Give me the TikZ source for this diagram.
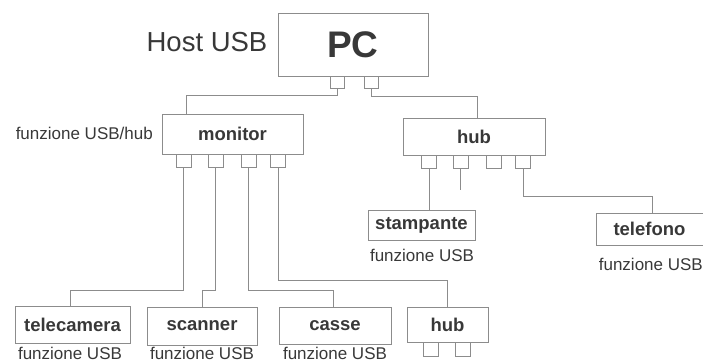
\documentclass[tikz,border=0pt]{standalone}
\usepackage{fontspec}
\setmainfont{Liberation Sans}
\definecolor{linec}{gray}{0.55}
\definecolor{txt}{gray}{0.22}
\tikzset{
  box/.style={draw=linec, line width=0.8pt, inner sep=0pt, text=txt,
              font=\bfseries\fontsize{18.5}{20}\selectfont},
  port/.style={draw=linec, line width=0.7pt, minimum width=15pt, minimum height=13pt, inner sep=0pt},
  lbl/.style={font=\fontsize{17}{19}\selectfont, text=txt, inner sep=0pt},
  wire/.style={draw=linec, line width=0.8pt}
}
\begin{document}
\begin{tikzpicture}[x=1pt,y=-1pt]
\useasboundingbox (0,0) rectangle (703,363);

% main boxes
\node[box, minimum width=150pt, minimum height=63pt, font=\bfseries\fontsize{37}{40}\selectfont] (pc) at (353,44.5) {PC};
\node[box, minimum width=141pt, minimum height=40pt] (monitor) at (232.5,134) {monitor};
\node[box, minimum width=142pt, minimum height=37pt] (hub) at (474,136.5) {hub};
\node[box, minimum width=107pt, minimum height=30pt] (stampante) at (421.5,225) {stampante};
\node[box, minimum width=107pt, minimum height=32pt] (telefono) at (649.5,229) {telefono};
\node[box, minimum width=115pt, minimum height=37pt] (telecamera) at (72.5,324.5) {telecamera};
\node[box, minimum width=110pt, minimum height=38pt] (scanner) at (202,326) {scanner};
\node[box, minimum width=112pt, minimum height=37pt] (casse) at (335,325.5) {casse};
\node[box, minimum width=81pt, minimum height=35pt] (hubb) at (447.5,324.5) {hub};

% ports
\node[port, minimum width=14pt, minimum height=12pt] (pc1) at (337,82) {};
\node[port, minimum width=14pt, minimum height=12pt] (pc2) at (371,82) {};
\node[port] (m1) at (183.5,160.5) {};
\node[port] (m2) at (215.5,160.5) {};
\node[port] (m3) at (248.5,160.5) {};
\node[port] (m4) at (278,160.5) {};
\node[port] (h1) at (429,161.5) {};
\node[port] (h2) at (460.5,161.5) {};
\node[port] (h3) at (494,161.5) {};
\node[port] (h4) at (523,161.5) {};
\node[port, minimum height=14pt] (hb1) at (431,349) {};
\node[port, minimum height=14pt] (hb2) at (462.5,349) {};

% labels
\node[lbl, font=\fontsize{27.5}{30}\selectfont] (host) at (207,42) {Host USB};
\node[lbl, anchor=east] (fmon) at (153,133) {funzione USB/hub};
\node[lbl] (fsta) at (422,255) {funzione USB};
\node[lbl, anchor=east] (ftel) at (703,264) {funzione USB};
\node[lbl] (ftc) at (70,353) {funzione USB};
\node[lbl] (fsc) at (202,353) {funzione USB};
\node[lbl] (fca) at (335,353) {funzione USB};

% bend points
\coordinate (b1) at (186,95);
\coordinate (b2) at (477,96);
\coordinate (c1) at (70,290);
\coordinate (c2) at (202,290);
\coordinate (c3) at (333,290);
\coordinate (c4) at (447,280);
\coordinate (d4) at (652,196);
\coordinate (s2) at (460.5,190);

% connectors
\draw[wire] (pc1.south) |- (b1) -- (b1 |- monitor.north);
\draw[wire] (pc2.south) |- (b2) -- (b2 |- hub.north);
\draw[wire] (m1.south) |- (c1) -- (c1 |- telecamera.north);
\draw[wire] (m2.south) |- (c2) -- (c2 |- scanner.north);
\draw[wire] (m3.south) |- (c3) -- (c3 |- casse.north);
\draw[wire] (m4.south) |- (c4) -- (c4 |- hubb.north);
\draw[wire] (h1.south) -- (h1.south |- stampante.north);
\draw[wire] (h2.south) -- (s2);
\draw[wire] (h4.south) |- (d4) -- (d4 |- telefono.north);
\end{tikzpicture}
\end{document}
